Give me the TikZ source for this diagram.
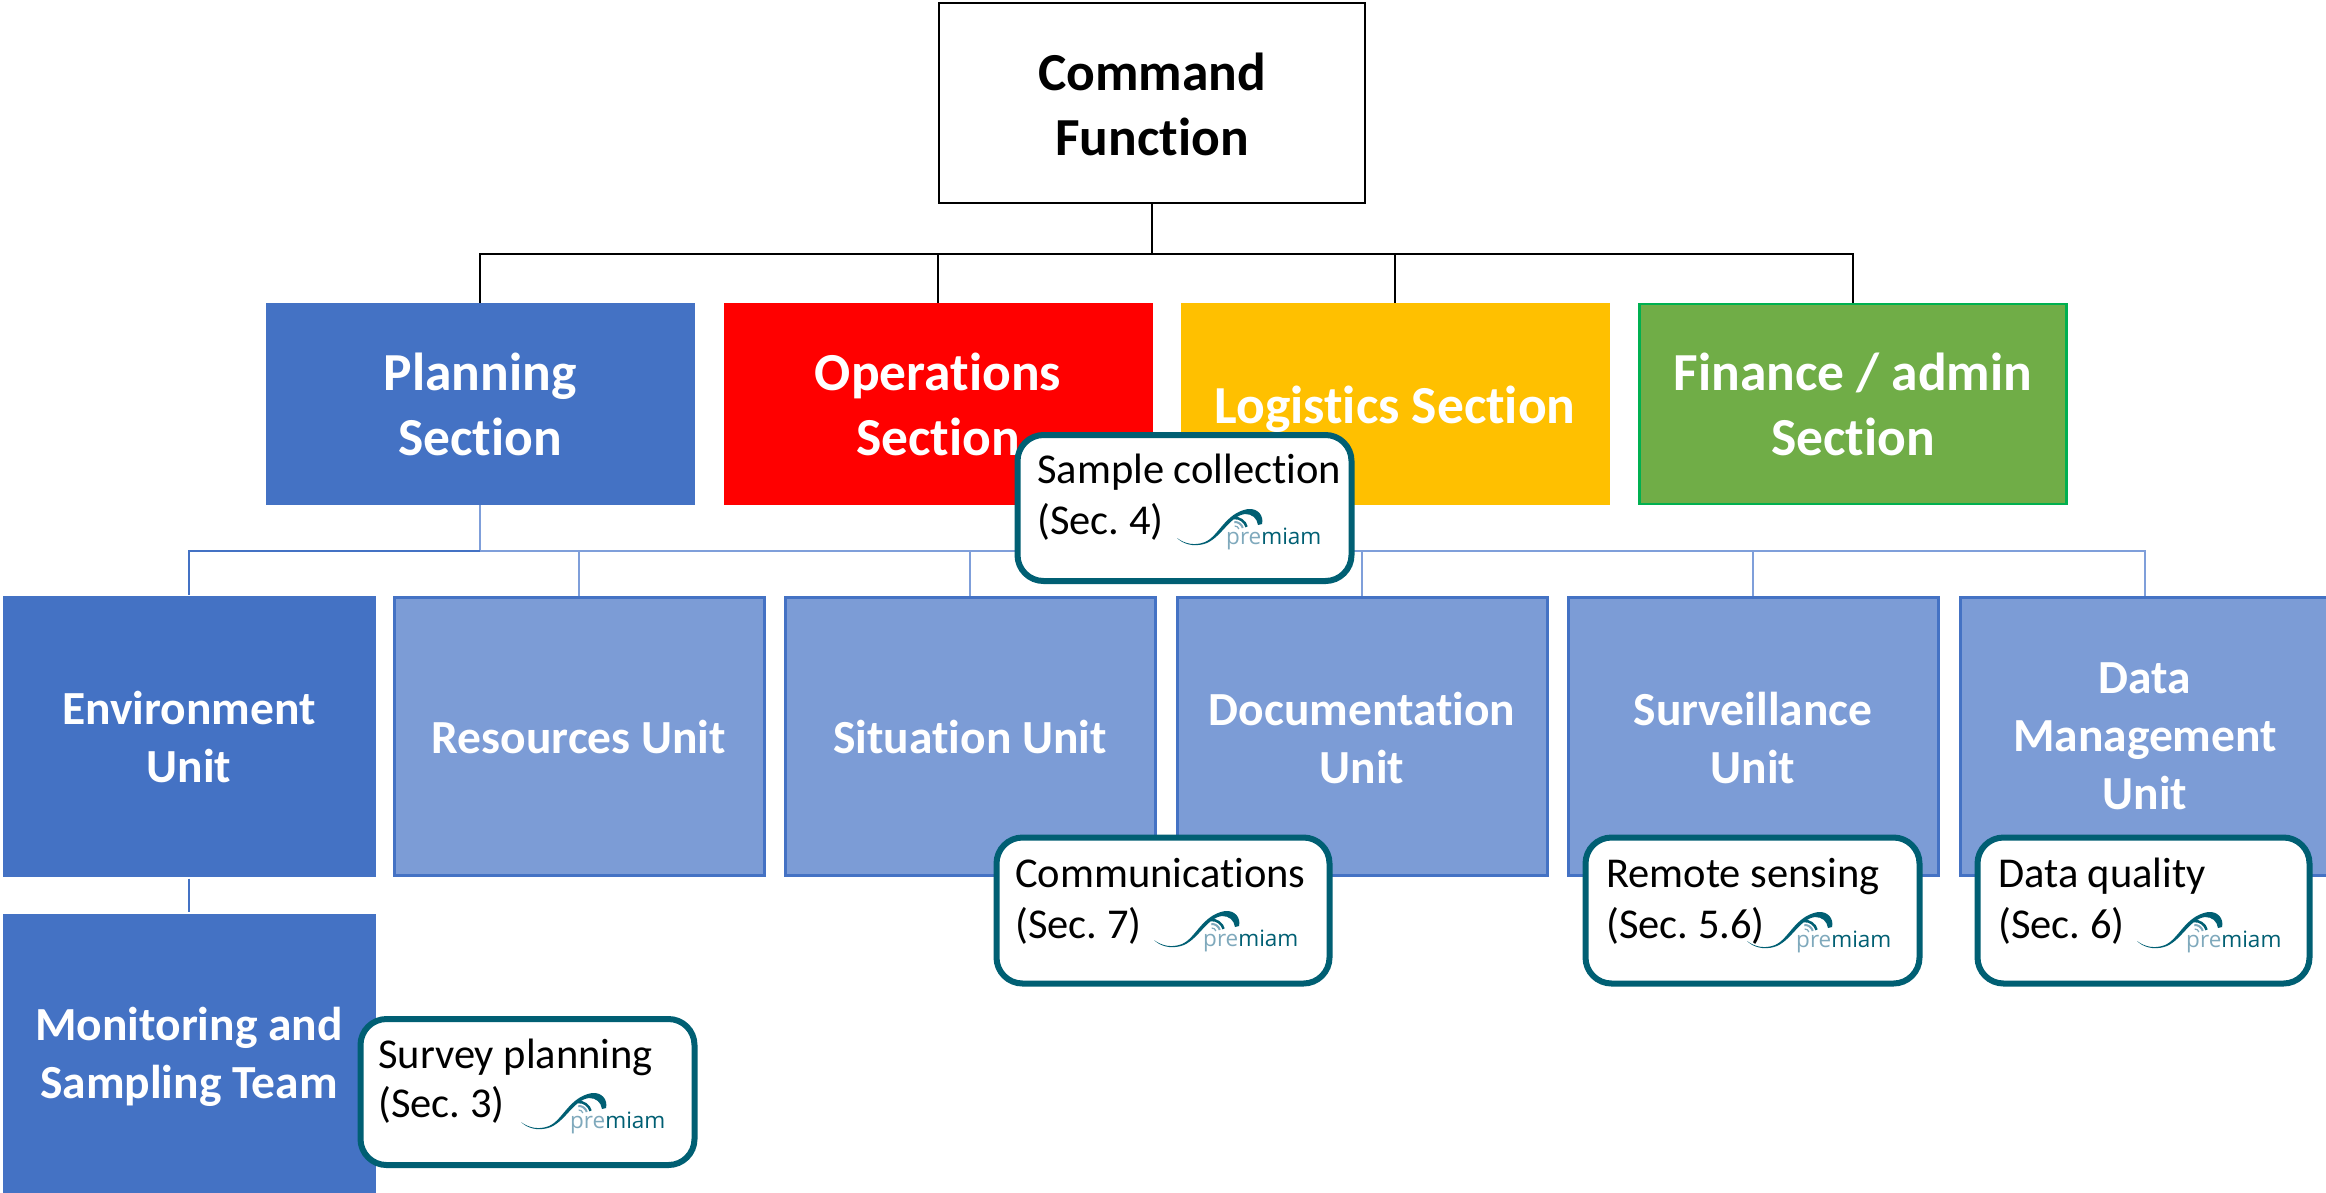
\documentclass[tikz,border=0pt]{standalone}
\usepackage{fontspec}
\setmainfont[Ligatures=NoCommon]{Carlito}
\newfontfamily\logofont{Open Sans}
\frenchspacing
\definecolor{blueD}{HTML}{4472C4}
\definecolor{blueL}{HTML}{7C9CD6}
\definecolor{conL}{HTML}{7F9FDA}
\definecolor{redS}{HTML}{FF0000}
\definecolor{goldS}{HTML}{FFC000}
\definecolor{greenS}{HTML}{70AD47}
\definecolor{greenB}{HTML}{00B050}
\definecolor{teal}{HTML}{005F73}
\definecolor{tealL}{HTML}{7FA9BC}
\tikzset{
  box/.style={rectangle,inner sep=2pt,align=center,text=white},
  sect/.style={box,minimum width=429pt,minimum height=202pt,
     font=\fontsize{53.5}{65}\selectfont\bfseries},
  unit/.style={box,minimum width=370pt,minimum height=278pt,fill=blueL,draw=blueD,line width=3pt,
     font=\fontsize{47.5}{58}\selectfont\bfseries},
  unitD/.style={unit,fill=blueD,draw=none,minimum width=373pt,minimum height=281pt},
  cmdbox/.style={rectangle,draw=black,line width=2.5pt,fill=white,minimum width=426pt,minimum height=200pt,
     align=center,font=\fontsize{53.5}{65}\selectfont\bfseries},
  conK/.style={draw=black,line width=2.5pt},
  conB/.style={draw=conL,line width=2.5pt},
  conD/.style={draw=blueD,line width=2.5pt},
  callout/.style={rectangle,draw=teal,line width=6pt,fill=white,rounded corners=26pt},
  calltext/.style={inner sep=0pt,align=left,anchor=base west,text=black,
     font=\fontsize{42.5}{51}\selectfont},
  logotext/.style={inner sep=0pt,anchor=base west,font=\logofont\fontsize{22.5}{23}\selectfont},
  pics/premiam/.style={code={
     \fill[teal] (0,29) .. controls (8,35) and (18,37) .. (28,33)
        .. controls (42,27) and (48,4) .. (71,0)
        .. controls (81,-1) and (87,7) .. (85,15)
        -- (81,16) .. controls (80,9) and (75,5) .. (68,5)
        .. controls (52,7) and (44,30) .. (27,35)
        .. controls (16,38) and (6,35) .. (0,29) -- cycle;
     \draw[teal,line width=2.5pt] (58,21) ++(95:12pt) arc[start angle=95,end angle=15,radius=12pt];
     \draw[tealL,line width=2pt] (58,21) ++(95:8pt) arc[start angle=95,end angle=15,radius=8pt];
     \draw[tealL,line width=1.2pt] (58,21) ++(95:4pt) arc[start angle=95,end angle=15,radius=4pt];
     \node[logotext] (-t) at (49,35) {\textcolor{tealL}{pre}\textcolor{teal}{miam}};
  }}
}
\newcommand{\lowered}[2]{\raisebox{-#1}[\height][\depth]{#2}}
\begin{document}
\begin{tikzpicture}[x=1pt,y=-1pt]
\useasboundingbox (0,0) rectangle (2326,1192);
\fill[white] (0,0) rectangle (2326,1192);
% top
\node[cmdbox] (cmd) at (1152,103) {\lowered{1.5pt}{Command}\\\lowered{1.5pt}{Function}};
\node[sect,fill=blueD] (plan) at (480,404) {Planning\\Section};
\node[sect,fill=redS] (ops) at (938,404) {Operations\\Section};
\node[sect,fill=goldS] (log) at (1395,404) {\lowered{5pt}{Logistics Section}};
\node[sect,fill=greenS,draw=greenB,line width=2.5pt,minimum width=427pt,minimum height=200pt] (fin) at (1853,404) {Finance / admin\\Section};
% units
\node[unitD] (env) at (189,736.5) {Environment\\Unit};
\node[unit] (res) at (579,736.5) {Resources Unit};
\node[unit] (sit) at (970,736.5) {Situation Unit};
\node[unit] (doc) at (1362,736.5) {\lowered{1pt}{Documentation}\\\lowered{1pt}{Unit}};
\node[unit] (sur) at (1753,736.5) {\lowered{1pt}{Surveillance}\\\lowered{1pt}{Unit}};
\node[unit] (dat) at (2145,736.5) {Data\\Management\\Unit};
\node[unitD,minimum height=279pt] (mon) at (189,1053) {\lowered{4pt}{Monitoring and}\\\lowered{4pt}{Sampling Team}};
% connectors
\coordinate (busA) at (1152,254);
\coordinate (busB) at (480,551);
\draw[conK] (cmd.south) -- (busA);
\draw[conK] (busA) -| (plan.north);
\draw[conK] (busA) -| (ops.north);
\draw[conK] (busA) -| (log.north);
\draw[conK] (busA) -| (fin.north);
\draw[conB] (plan.south) -- (busB);
\draw[conB] (busB) -| (res.north);
\draw[conB] (busB) -| (sit.north);
\draw[conB] (busB) -| (doc.north);
\draw[conB] (busB) -| (sur.north);
\draw[conB] (busB) -| (dat.north);
\draw[conD] (busB) -| (env.north);
\draw[conD] (env.south) -- (mon.north);
% callouts
\node[callout,minimum width=334pt,minimum height=146pt] (c1) at (1184.5,508) {};
\node[calltext] (c1t) at (1037,534) {Sample collection\\(Sec. 4)};
\pic (c1l) at (1177,509) {premiam};
\node[callout,minimum width=334pt,minimum height=146pt] (c2) at (527.5,1092) {};
\node[calltext] (c2t) at (378,1117) {Survey planning\\[-2pt](Sec. 3)};
\pic (c2l) at (521,1093) {premiam};
\node[callout,minimum width=333pt,minimum height=146pt] (c3) at (1163,910.5) {};
\node[calltext] (c3t) at (1015,938) {Communications\\(Sec. 7)};
\pic (c3l) at (1154,911) {premiam};
\node[callout,minimum width=334pt,minimum height=146pt] (c4) at (1752.5,910.5) {};
\node[calltext] (c4t) at (1606,938) {Remote sensing\\(Sec. 5.6)};
\pic (c4l) at (1747,912) {premiam};
\node[callout,minimum width=332pt,minimum height=146pt] (c5) at (2143.5,910.5) {};
\node[calltext] (c5t) at (1998,938) {Data quality\\(Sec. 6)};
\pic (c5l) at (2137,912) {premiam};
\end{tikzpicture}
\end{document}
